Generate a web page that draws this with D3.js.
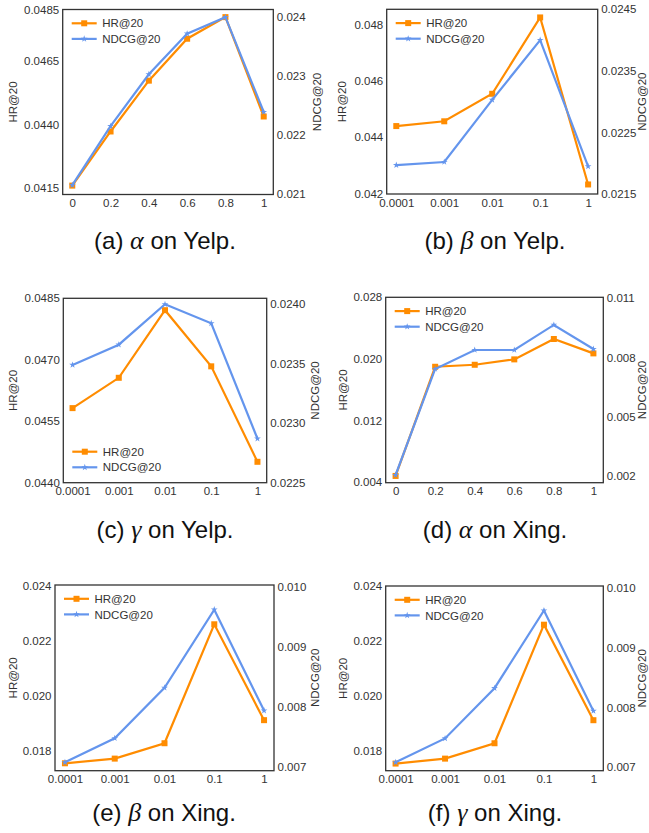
<!DOCTYPE html>
<html>
<head>
<meta charset="utf-8">
<script src="https://cdn.jsdelivr.net/npm/d3@7"></script>
<style>
body { margin: 0; background: #fff; }
.tick text { font-family: "Liberation Sans", Arial, sans-serif; font-size: 11.5px; fill: #333; }
.lbl { font-family: "Liberation Sans", Arial, sans-serif; font-size: 11.5px; fill: #333; }
.cap { font-family: "Liberation Sans", Arial, sans-serif; font-size: 24px; fill: #111; }
</style>
</head>
<body>
<div id="chart"></div>
<script>
// x categories
var alphaX = ["0", "0.2", "0.4", "0.6", "0.8", "1"];
var powX = ["0.0001", "0.001", "0.01", "0.1", "1"];

// (a) alpha on Yelp
var hrA = [0.04159, 0.04372, 0.04572, 0.04737, 0.04822, 0.04431];
var ndcgA = [0.02115, 0.02215, 0.02303, 0.02372, 0.02400, 0.02239];
var hrLimA = [0.04124, 0.04852], ndcgLimA = [0.02099, 0.02413];
var hrTicksA = ["0.0415", "0.0440", "0.0465", "0.0485"];
var ndcgTicksA = ["0.021", "0.022", "0.023", "0.024"];

// (b) beta on Yelp
var hrB = [0.04440, 0.04457, 0.04555, 0.04827, 0.04232];
var ndcgB = [0.02197, 0.02202, 0.02303, 0.02400, 0.02195];
var hrLimB = [0.04198, 0.04856], ndcgLimB = [0.0215, 0.0245];
var hrTicksB = ["0.042", "0.044", "0.046", "0.048"];
var ndcgTicksB = ["0.0215", "0.0225", "0.0235", "0.0245"];

// (c) gamma on Yelp
var hrC = [0.04582, 0.04656, 0.04821, 0.04684, 0.04451];
var ndcgC = [0.02349, 0.02366, 0.02400, 0.02384, 0.02287];
var hrLimC = [0.0440, 0.0485], ndcgLimC = [0.0225, 0.02405];
var hrTicksC = ["0.0440", "0.0455", "0.0470", "0.0485"];
var ndcgTicksC = ["0.0225", "0.0230", "0.0235", "0.0240"];

// (d) alpha on Xing
var hrD = [0.00478, 0.01897, 0.01923, 0.01993, 0.02258, 0.02071];
var ndcgD = [0.00205, 0.00742, 0.00838, 0.00838, 0.00965, 0.00843];
var hrLimD = [0.0039, 0.028], ndcgLimD = [0.00166, 0.01105];
var hrTicksD = ["0.004", "0.012", "0.020", "0.028"];
var ndcgTicksD = ["0.002", "0.005", "0.008", "0.011"];

// (e) beta on Xing
var hrE = [0.01755, 0.01772, 0.01828, 0.02261, 0.01912];
var ndcgE = [0.00708, 0.00748, 0.00832, 0.00962, 0.00794];
var hrLimE = [0.01728, 0.02404], ndcgLimE = [0.00694, 0.01003];
var hrTicksE = ["0.018", "0.020", "0.022", "0.024"];
var ndcgTicksE = ["0.007", "0.008", "0.009", "0.010"];

// (f) gamma on Xing
var hrF = [0.01754, 0.01772, 0.01828, 0.02260, 0.01912];
var ndcgF = [0.00708, 0.00748, 0.00832, 0.00962, 0.00794];
var hrLimF = [0.01728, 0.02401], ndcgLimF = [0.00694, 0.01003];
var hrTicksF = ["0.018", "0.020", "0.022", "0.024"];
var ndcgTicksF = ["0.007", "0.008", "0.009", "0.010"];

var orange = "#ff8c00", blue = "#6495ed";

var panels = [
  {x: alphaX, hr: hrA, ndcg: ndcgA, hrLim: hrLimA, ndcgLim: ndcgLimA, hrT: hrTicksA, ndcgT: ndcgTicksA,
   box: [62.7, 9.5, 273.3, 194.5], leg: "top", cap: ["(a) ", "\u03b1", " on Yelp."], capX: 165, capY: 249, lx: 13.3, rx: 316.7},
  {x: powX, hr: hrB, ndcg: ndcgB, hrLim: hrLimB, ndcgLim: ndcgLimB, hrT: hrTicksB, ndcgT: ndcgTicksB,
   box: [386.7, 9.3, 597.7, 194], leg: "top", cap: ["(b) ", "\u03b2", " on Yelp."], capX: 495, capY: 249, lx: 341.7, rx: 642},
  {x: powX, hr: hrC, ndcg: ndcgC, hrLim: hrLimC, ndcgLim: ndcgLimC, hrT: hrTicksC, ndcgT: ndcgTicksC,
   box: [63.3, 298.3, 266.7, 482.7], leg: "bottom", cap: ["(c) ", "\u03b3", " on Yelp."], capX: 165, capY: 538, lx: 13.3, rx: 315},
  {x: alphaX, hr: hrD, ndcg: ndcgD, hrLim: hrLimD, ndcgLim: ndcgLimD, hrT: hrTicksD, ndcgT: ndcgTicksD,
   box: [385.7, 297.3, 603.3, 482.7], leg: "top", cap: ["(d) ", "\u03b1", " on Xing."], capX: 495, capY: 538, lx: 343.3, rx: 642},
  {x: powX, hr: hrE, ndcg: ndcgE, hrLim: hrLimE, ndcgLim: ndcgLimE, hrT: hrTicksE, ndcgT: ndcgTicksE,
   box: [55, 585, 274, 770.7], leg: "top", cap: ["(e) ", "\u03b2", " on Xing."], capX: 164, capY: 821, lx: 12.7, rx: 315},
  {x: powX, hr: hrF, ndcg: ndcgF, hrLim: hrLimF, ndcgLim: ndcgLimF, hrT: hrTicksF, ndcgT: ndcgTicksF,
   box: [385.7, 586, 603.3, 770.7], leg: "top", cap: ["(f) ", "\u03b3", " on Xing."], capX: 495, capY: 821, lx: 343.3, rx: 642}
];

var svg = d3.select("#chart").append("svg")
  .attr("width", 649)
  .attr("height", 833);

var star = d3.symbol().type(d3.symbolStar).size(14);

panels.forEach(function(p) {
  var L = p.box[0], T = p.box[1], R = p.box[2], B = p.box[3];
  var g = svg.append("g");

  var x = d3.scalePoint().domain(p.x).range([L, R]).padding(0.05 * (p.x.length - 1));
  var yL = d3.scaleLinear().domain(p.hrLim).range([B, T]);
  var yR = d3.scaleLinear().domain(p.ndcgLim).range([B, T]);

  // axes, no tick marks
  g.append("g").attr("transform", "translate(" + L + ",0)")
    .call(d3.axisLeft(yL).tickValues(p.hrT.map(Number)).tickFormat(function(d, i) { return p.hrT[i]; })
      .tickSize(0).tickPadding(3.5))
    .call(function(a) { a.select(".domain").remove(); });
  g.append("g").attr("transform", "translate(" + R + ",0)")
    .call(d3.axisRight(yR).tickValues(p.ndcgT.map(Number)).tickFormat(function(d, i) { return p.ndcgT[i]; })
      .tickSize(0).tickPadding(3.5))
    .call(function(a) { a.select(".domain").remove(); });
  g.append("g").attr("transform", "translate(0," + B + ")")
    .call(d3.axisBottom(x).tickSize(0).tickPadding(4.5))
    .call(function(a) { a.select(".domain").remove(); });

  // HR line
  var lineL = d3.line().x(function(d, i) { return x(p.x[i]); }).y(function(d) { return yL(d); });
  var lineR = d3.line().x(function(d, i) { return x(p.x[i]); }).y(function(d) { return yR(d); });

  g.append("path").attr("d", lineL(p.hr))
    .attr("fill", "none").attr("stroke", orange).attr("stroke-width", 2.2);
  g.selectAll(".sq").data(p.hr).enter().append("rect")
    .attr("x", function(d, i) { return x(p.x[i]) - 3; })
    .attr("y", function(d) { return yL(d) - 3; })
    .attr("width", 6).attr("height", 6)
    .attr("fill", orange);

  // NDCG line on the twin axis
  g.append("path").attr("d", lineR(p.ndcg))
    .attr("fill", "none").attr("stroke", blue).attr("stroke-width", 2.2);
  g.selectAll(".st").data(p.ndcg).enter().append("path")
    .attr("d", star)
    .attr("transform", function(d, i) { return "translate(" + x(p.x[i]) + "," + yR(d) + ")"; })
    .attr("fill", blue);

  // frame
  g.append("rect").attr("x", L).attr("y", T).attr("width", R - L).attr("height", B - T)
    .attr("fill", "none").attr("stroke", "#333").attr("stroke-width", 1.3);

  // legend
  var ly = p.leg == "top" ? T + 13.8 : B - 31;
  var rows = [{t: "HR@20", c: orange, m: "sq"}, {t: "NDCG@20", c: blue, m: "st"}];
  rows.forEach(function(r, k) {
    var yy = ly + k * 15.6;
    g.append("line").attr("x1", L + 9).attr("x2", L + 34).attr("y1", yy).attr("y2", yy)
      .attr("stroke", r.c).attr("stroke-width", 2.2);
    if (r.m == "sq") {
      g.append("rect").attr("x", L + 18.5).attr("y", yy - 3).attr("width", 6).attr("height", 6).attr("fill", r.c);
    } else {
      g.append("path").attr("d", star).attr("transform", "translate(" + (L + 21.5) + "," + yy + ")").attr("fill", r.c);
    }
    g.append("text").attr("class", "lbl").attr("x", L + 39.5).attr("y", yy).attr("dy", "0.36em").text(r.t);
  });

  // axis titles
  g.append("text").attr("class", "lbl")
    .attr("transform", "translate(" + p.lx + "," + ((T + B) / 2) + ") rotate(-90)")
    .attr("text-anchor", "middle").attr("dy", "0.36em").text("HR@20");
  g.append("text").attr("class", "lbl")
    .attr("transform", "translate(" + p.rx + "," + ((T + B) / 2) + ") rotate(-90)")
    .attr("text-anchor", "middle").attr("dy", "0.36em").text("NDCG@20");

  // caption
  var cap = g.append("text").attr("class", "cap")
    .attr("x", p.capX).attr("y", p.capY).attr("text-anchor", "middle");
  cap.append("tspan").text(p.cap[0]);
  cap.append("tspan").style("font-family", "'Liberation Serif', serif").style("font-style", "italic")
    .style("font-size", "26px").text(p.cap[1]);
  cap.append("tspan").text(p.cap[2]);
});
</script>
</body>
</html>
